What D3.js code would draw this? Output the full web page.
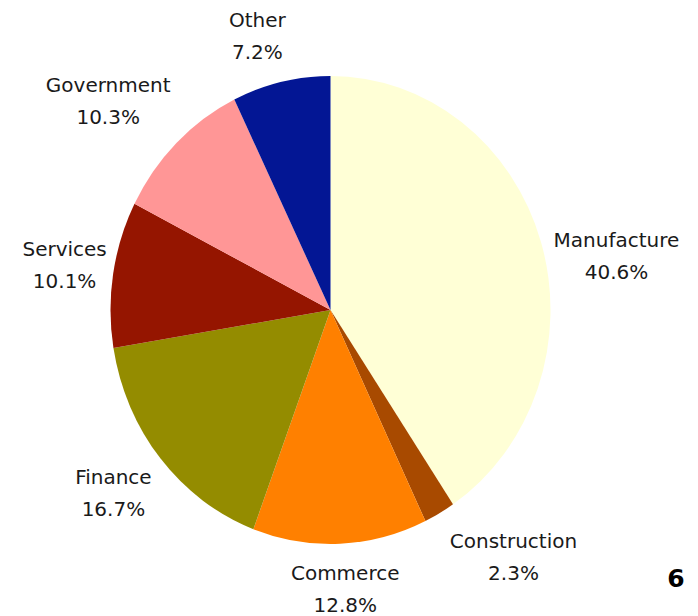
<!DOCTYPE html>
<html><head><meta charset="utf-8">
<script src="https://cdn.jsdelivr.net/npm/d3@7"></script>
<style>html,body{margin:0;padding:0;background:#fff;}svg{display:block;}</style>
</head><body>
<svg id="c" width="698" height="616"></svg>
<script>
const categories = ["Manufacture","Construction","Commerce","Finance","Services","Government","Other"];
const values = [40.6, 2.3, 12.8, 16.7, 10.1, 10.3, 7.2];
const colors = ["#FFFFD6","#A84A00","#FF8000","#948C00","#951500","#FF9696","#031694"];
const pageNumber = "6";

// layout
const W = 698, H = 616;
const cx = 330.5, cy = 310, rx = 220, ry = 234;
const gap = 15, lineGap = 32;
// small label nudges (layout only)
const labelNudge = [[1,34],[35,13],[2,9],[-6,14],[8,4],[-14,-4],[-14,3]];

const svg = d3.select("#c");
const pie = d3.pie().sort(null).value(d => d)(values);
const arc = d3.arc().innerRadius(0).outerRadius(ry);

const g = svg.append("g").attr("transform", `translate(${cx},${cy}) scale(${rx/ry},1)`);
g.selectAll("path").data(pie).enter().append("path")
  .attr("d", arc).attr("fill", (d,i) => colors[i]);

const fmt = d3.format(".1f");
const labels = svg.append("g").attr("font-family", "'DejaVu Sans', sans-serif")
  .attr("font-size", 20).attr("fill", "#1a1a1a").attr("text-anchor", "middle");

pie.forEach((d, i) => {
  const a = (d.startAngle + d.endAngle) / 2;
  const s = Math.sin(a), c = Math.cos(a);
  const t = labels.append("text");
  t.append("tspan").attr("x", 0).attr("y", 0).text(categories[i]);
  t.append("tspan").attr("x", 0).attr("y", lineGap).text(fmt(values[i]) + "%");
  const bb = t.node().getBBox();
  const w = bb.width, h = bb.height;
  const ex = cx + (rx + gap) * s, ey = cy - (ry + gap) * c;
  const mx = ex + s * w / 2 + labelNudge[i][0];
  const my = ey - c * h / 2 + labelNudge[i][1];
  t.attr("transform", `translate(${mx},${my - lineGap/2})`);
});

svg.append("text").attr("x", 676).attr("y", 587).attr("text-anchor", "middle")
  .attr("font-family", "'DejaVu Sans', sans-serif").attr("font-weight", "bold")
  .attr("font-size", 25).attr("fill", "#000").text(pageNumber);
</script>
</body></html>
